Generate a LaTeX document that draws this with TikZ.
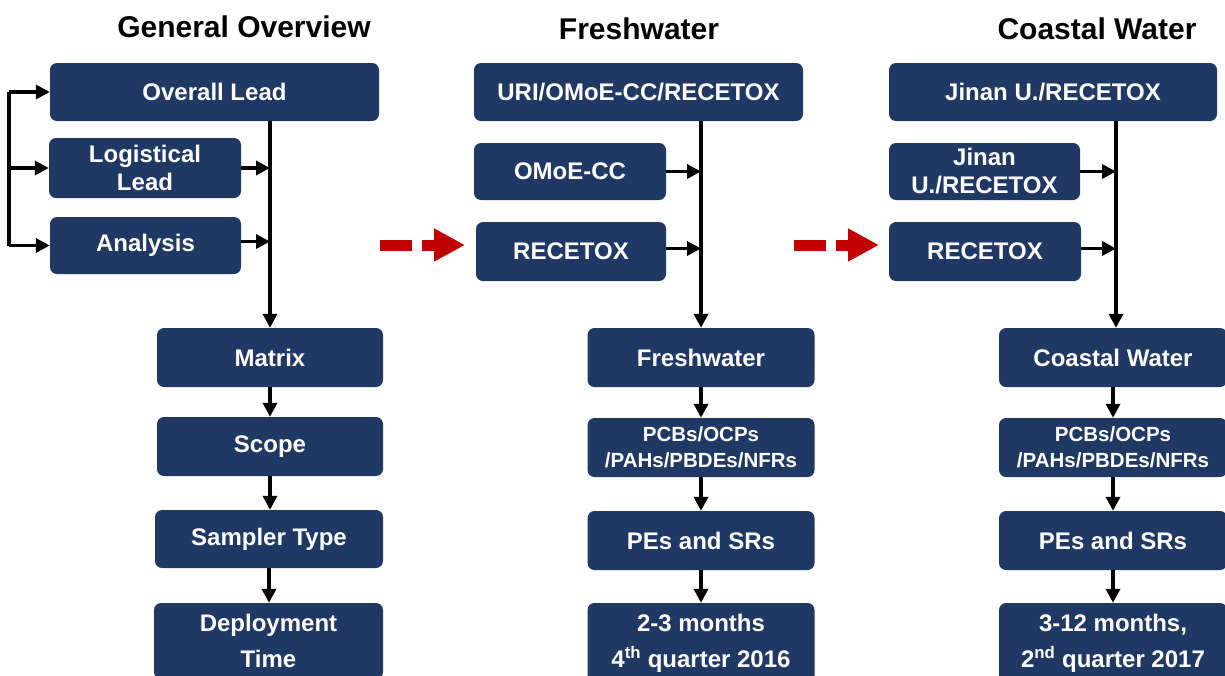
\documentclass[tikz,border=0pt]{standalone}
\usepackage{fontspec}
\setmainfont{Liberation Sans}
\usetikzlibrary{arrows.meta}
\definecolor{navy}{RGB}{31,56,100}
\definecolor{redarrow}{RGB}{192,0,0}
\begin{document}
\begin{tikzpicture}[x=1pt,y=-1pt,
  box/.style={fill=navy, rounded corners=7pt, text=white, align=center, inner sep=0pt,
    font=\fontsize{24}{28}\selectfont\bfseries},
  small/.style={font=\fontsize{20.5}{26}\selectfont\bfseries},
  tall/.style={font=\fontsize{24}{36}\selectfont\bfseries},
  hdr/.style={anchor=base, font=\fontsize{30}{36}\selectfont\bfseries},
  arr/.style={line width=3.4pt, -{Triangle[length=14pt,width=14pt]}},
  bar/.style={line width=3.4pt},
  redarr/.style={line width=11pt, redarrow, dash pattern=on 32pt off 10pt,
    -{Triangle[length=31pt,width=31pt]}}
]
\useasboundingbox (0,0) rectangle (1225,675);
\clip (0,0) rectangle (1225,675);

% headers
\node[hdr] (h1) at (244,37) {General Overview};
\node[hdr] (h2) at (639,39) {Freshwater};
\node[hdr] (h3) at (1097,39) {Coastal Water};

% ---------- left column ----------
\node[box, minimum width=329, minimum height=58] (ol) at (214.5,92) {Overall Lead};
\node[box, minimum width=192, minimum height=60] (ll) at (145,168) {Logistical\\Lead};
\node[box, minimum width=191, minimum height=57] (an) at (145.5,245.5) {Analysis};
\node[box, minimum width=226, minimum height=59] (mx) at (270,357.5) {Matrix};
\node[box, minimum width=226, minimum height=59] (sc) at (270,446.5) {Scope};
\node[box, minimum width=228, minimum height=58] (st) at (269,539) {Sampler Type};
\node[box, tall, minimum width=229, minimum height=76] (dt) at (268.5,641) {Deployment\\Time};

\coordinate (bx) at (9,0);
\draw[bar] (ol.west -| bx) -- (an.west -| bx);
\draw[arr] (ol.west -| bx) -- (ol.west);
\draw[arr] (ll.west -| bx) -- (ll.west);
\draw[arr] (an.west -| bx) -- (an.west);
\draw[arr] (ol.south -| mx.north) -- (mx.north);
\draw[arr] (ll.east) -- (ll.east -| mx.north);
\draw[arr] ([yshift=4pt]an.east) -- ([yshift=4pt]an.east -| mx.north);
\draw[arr] (mx.south) -- (sc.north);
\draw[arr] (sc.south) -- (sc.south |- st.north);
\draw[arr] (st.south) -- (st.south |- dt.north);

% ---------- middle column ----------
\node[box, minimum width=329, minimum height=58] (uri) at (638.5,92) {URI/OMoE-CC/RECETOX};
\node[box, minimum width=192, minimum height=57] (om) at (570,171.5) {OMoE-CC};
\node[box, minimum width=190, minimum height=59] (rc) at (571,251.5) {RECETOX};
\node[box, minimum width=227, minimum height=59] (fw) at (701,357.5) {Freshwater};
\node[box, small, minimum width=227, minimum height=59] (pc) at (701,447.5) {PCBs/OCPs\\/PAHs/PBDEs/NFRs};
\node[box, minimum width=227, minimum height=59] (pe) at (701,540.5) {PEs and SRs};
\node[box, tall, minimum width=227, minimum height=80] (tm) at (701,643) {2-3 months\\4\textsuperscript{th} quarter 2016};

\draw[arr] (uri.south -| fw.north) -- (fw.north);
\draw[arr] (om.east) -- (om.east -| fw.north);
\draw[arr] ([yshift=3pt]rc.east) -- ([yshift=3pt]rc.east -| fw.north);
\draw[arr] (fw.south) -- (pc.north);
\draw[arr] (pc.south) -- (pe.north);
\draw[arr] (pe.south) -- (tm.north);

% ---------- right column ----------
\node[box, minimum width=328, minimum height=58] (jr) at (1053,92) {Jinan U./RECETOX};
\node[box, minimum width=191, minimum height=57] (j2) at (984.5,171.5) {Jinan\\U./RECETOX};
\node[box, minimum width=192, minimum height=59] (r2) at (985,251.5) {RECETOX};
\node[box, minimum width=228, minimum height=59] (cw) at (1113,357.5) {Coastal Water};
\node[box, small, minimum width=228, minimum height=59] (pc2) at (1113,447.5) {PCBs/OCPs\\/PAHs/PBDEs/NFRs};
\node[box, minimum width=228, minimum height=59] (pe2) at (1113,540.5) {PEs and SRs};
\node[box, tall, minimum width=228, minimum height=80] (tm2) at (1113,643) {3-12 months,\\2\textsuperscript{nd} quarter 2017};

\coordinate (cx) at (1116,0);
\draw[arr] (jr.south -| cx) -- (cw.north -| cx);
\draw[arr] (j2.east) -- (j2.east -| cx);
\draw[arr] ([yshift=3pt]r2.east) -- ([yshift=3pt]r2.east -| cx);
\draw[arr] (cw.south) -- (pc2.north);
\draw[arr] (pc2.south) -- (pe2.north);
\draw[arr] (pe2.south) -- (tm2.north);

% ---------- red dashed arrows ----------
\coordinate (ra1) at (380,245);
\coordinate (ra2) at (465,245);
\coordinate (rb1) at (794,245);
\coordinate (rb2) at (879,245);
\draw[redarr] (ra1) -- (ra2);
\draw[redarr] (rb1) -- (rb2);
\end{tikzpicture}
\end{document}
